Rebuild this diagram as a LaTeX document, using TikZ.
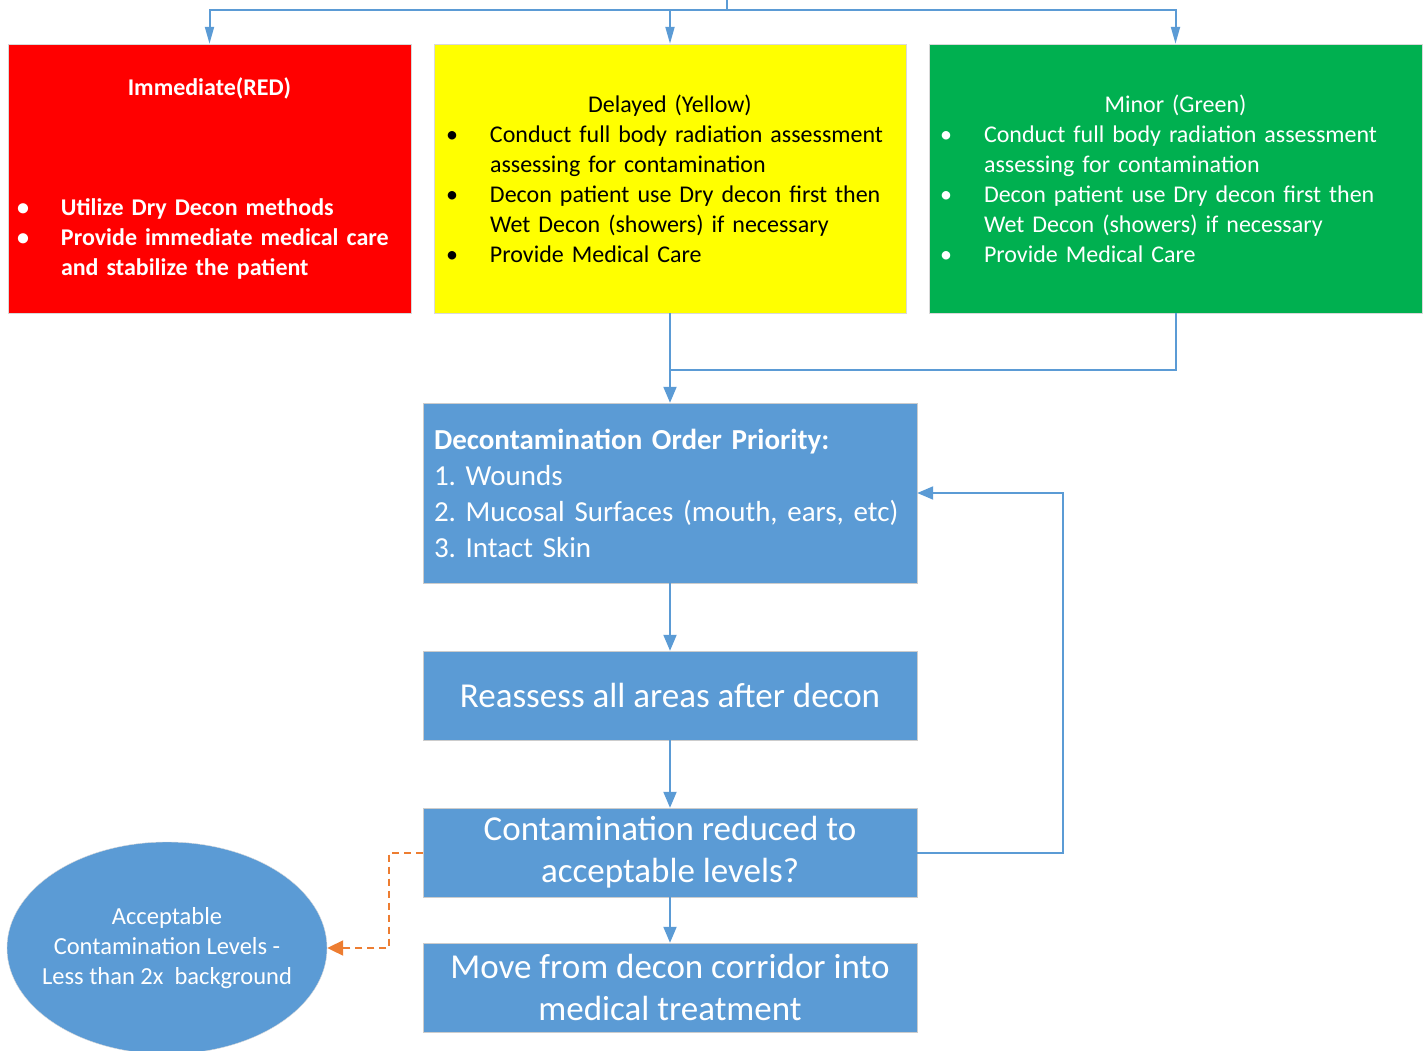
\documentclass[tikz,border=0pt]{standalone}
\usepackage{fontspec}
\setmainfont{Carlito}
\usetikzlibrary{positioning,arrows.meta,shapes.geometric}
\frenchspacing

\definecolor{stepblue}{HTML}{5B9BD5}
\definecolor{flagred}{HTML}{FF0000}
\definecolor{flagyellow}{HTML}{FFFF00}
\definecolor{flaggreen}{HTML}{00B050}
\definecolor{dashorange}{HTML}{ED7D31}

% bullet line with hanging indent
\newcommand{\tri}[1]{\par\noindent\hangindent=44pt\hangafter=1\makebox[44pt][l]{\textbullet}#1\par}
\newcommand{\trititle}[1]{\noindent\makebox[\hsize][c]{#1}}

\tikzset{
  triage/.style={rectangle, draw=black!15, minimum height=269pt, inner sep=0pt, align=left, font=\fontsize{24}{30}\selectfont},
  stepbox/.style={rectangle, draw=black!20, fill=stepblue, text=white, minimum width=494pt, inner sep=0pt},
  wire/.style={draw=stepblue, line width=2pt},
  link/.style={wire, -{Triangle[length=16pt,width=13pt]}},
  thinlink/.style={wire, -{Triangle[length=17pt,width=9pt]}},
  dashlink/.style={draw=dashorange, line width=2pt, dash pattern=on 7pt off 5pt, -{Triangle[length=16pt,width=15pt]}}
}

\begin{document}
\begin{tikzpicture}[x=1pt, y=-1pt]
\useasboundingbox (0,0) rectangle (1425,1051);

% Triage colour boxes
\node (red) [triage, fill=flagred, text=white, font=\fontsize{24}{30}\selectfont\bfseries, minimum width=403pt, text width=385pt] at (209.5,178.5)
  {\trititle{Immediate(RED)}\par\vspace{90pt}
   \tri{Utilize Dry Decon methods}
   \tri{Provide immediate medical care\newline and stabilize the patient}};
\node (yellow) [triage, fill=flagyellow, text=black, minimum width=472pt, text width=448pt] at (670,178.5)
  {\trititle{Delayed (Yellow)}
   \tri{Conduct full body radiation assessment\newline assessing for contamination}
   \tri{Decon patient use Dry decon first then\newline Wet Decon (showers) if necessary}
   \tri{Provide Medical Care}};
\node (green) [triage, fill=flaggreen, text=white, minimum width=493pt, text width=471pt] at (1175.5,178.5)
  {\trititle{Minor (Green)}
   \tri{Conduct full body radiation assessment\newline assessing for contamination}
   \tri{Decon patient use Dry decon first then\newline Wet Decon (showers) if necessary}
   \tri{Provide Medical Care}};

% Decon steps
\node (decon) [stepbox, minimum height=180pt, text width=472pt, align=left, font=\fontsize{29}{36}\selectfont] at (670,493)
  {\textbf{Decontamination Order Priority:}\\1. Wounds\\2. Mucosal Surfaces (mouth, ears, etc)\\3. Intact Skin};
\node (reassess) [stepbox, minimum height=89pt, align=center, font=\fontsize{35}{42}\selectfont] at (670,695.5)
  {Reassess all areas after decon};
\node (contam) [stepbox, minimum height=89pt, align=center, font=\fontsize{35}{42}\selectfont] at (670,852.5)
  {Contamination reduced to\\acceptable levels?};
\node (move) [stepbox, minimum height=89pt, align=center, font=\fontsize{35}{42}\selectfont] at (670,987.5)
  {Move from decon corridor into\\medical treatment};
\node (accept) [ellipse, draw=black!15, fill=stepblue, text=white, minimum width=320pt, minimum height=212pt, inner xsep=-20pt, inner ysep=5pt, align=center, font=\fontsize{24.5}{30}\selectfont] at (167,948)
  {Acceptable\\Contamination Levels -\\Less than 2x\ \ background};

% Connectors
\coordinate (src) at (727,0);
\coordinate (bus) at (727,10);
\coordinate (merge) at (670,370);
\draw[wire] (src) -- (bus);
\draw[thinlink] (bus) -| (red.north);
\draw[thinlink] (bus) -| (yellow.north);
\draw[thinlink] (bus) -| (green.north);
\draw[link] (yellow.south) -- (decon.north);
\draw[wire] (green.south) |- (merge);
\draw[link] (decon) -- (reassess);
\draw[link] (reassess) -- (contam);
\draw[link] (contam) -- (move);
\draw[link] (contam.east) -- ++(146,0) |- (decon.east);
\draw[dashlink] (contam.west) -- ++(-34,0) |- (accept.east);

\end{tikzpicture}
\end{document}
